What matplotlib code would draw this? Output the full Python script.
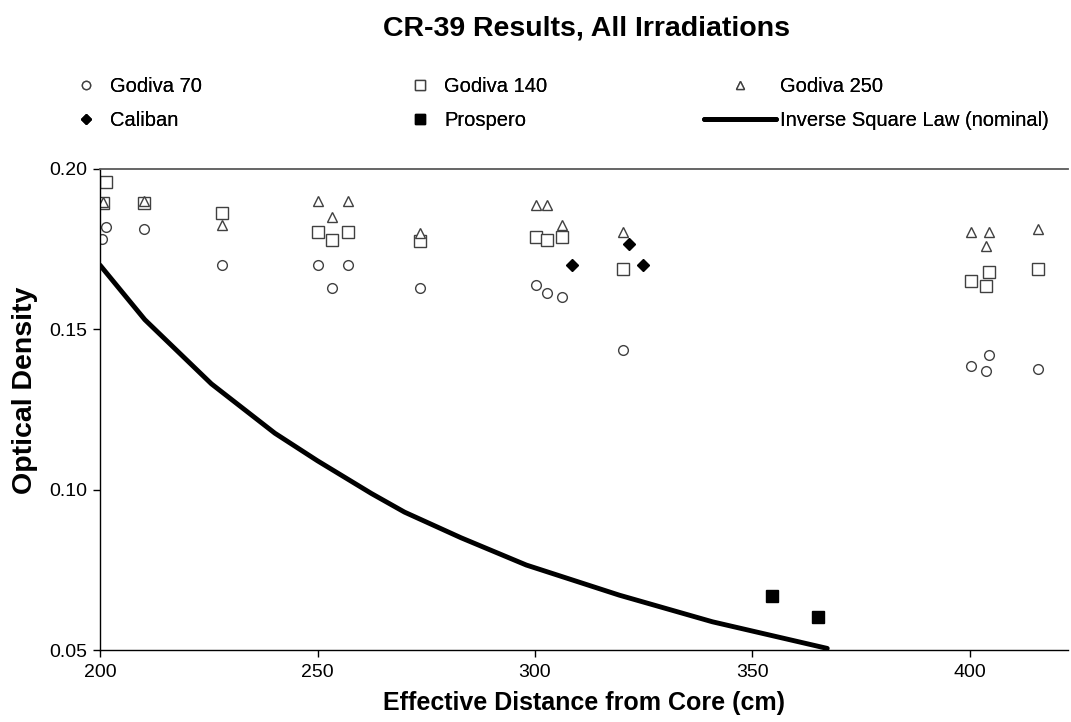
import matplotlib
matplotlib.use("Agg")
import matplotlib.pyplot as plt

plt.rcParams['font.family'] = ['Liberation Sans', 'DejaVu Sans']

# values
g70_x = [200.5, 201.4, 210.1, 228.1, 250.1, 253.3, 257.1, 273.6, 300.3, 302.8, 306.1, 320.2, 400.2, 404.4, 403.8, 415.7]
g70_y = [0.1783, 0.1818, 0.1812, 0.1700, 0.1700, 0.1629, 0.1700, 0.1628, 0.1638, 0.1612, 0.1602, 0.1436, 0.1386, 0.1421, 0.1370, 0.1377]

g140_x = [201.4, 200.6, 210.1, 228.1, 250.1, 253.3, 257.1, 273.6, 300.3, 302.8, 306.1, 320.2, 400.2, 404.4, 403.8, 415.7]
g140_y = [0.1959, 0.1895, 0.1895, 0.1862, 0.1804, 0.1778, 0.1804, 0.1775, 0.1788, 0.1778, 0.1788, 0.1689, 0.1652, 0.1679, 0.1636, 0.1688]

g250_x = [200.6, 210.1, 228.1, 250.1, 253.3, 257.1, 273.6, 300.3, 302.8, 306.1, 320.2, 400.2, 404.4, 403.8, 415.7]
g250_y = [0.1898, 0.1899, 0.1824, 0.1900, 0.1849, 0.1900, 0.1799, 0.1888, 0.1888, 0.1825, 0.1803, 0.1804, 0.1804, 0.1760, 0.1812]

caliban_x = [308.4, 321.6, 324.8]
caliban_y = [0.1700, 0.1767, 0.1700]

prospero_x = [354.4, 365.1]
prospero_y = [0.0669, 0.0602]

isl_x = [200, 210.3, 225.6, 240.2, 250, 262.4, 270, 283, 298, 319.4, 340.8, 367.2]
isl_y = [0.170, 0.153, 0.133, 0.1176, 0.109, 0.0988, 0.093, 0.085, 0.0765, 0.0671, 0.0588, 0.0505]

y_ticks = [0.05, 0.10, 0.15, 0.20]
x_ticks = [200, 250, 300, 350, 400]

fig = plt.figure(figsize=(10.71, 7.22), dpi=100)
ax = fig.add_axes([0.0934, 0.0997, 0.9036, 0.6663])

grey = '#404040'
ax.plot(g70_x, g70_y, ls='none', marker='o', ms=7, mfc='white', mec=grey, mew=1.0, label='Godiva 70')
ax.plot(g140_x, g140_y, ls='none', marker='s', ms=8, mfc='white', mec=grey, mew=1.0, label='Godiva 140')
ax.plot(g250_x, g250_y, ls='none', marker='^', ms=7.5, mfc='white', mec=grey, mew=1.0, label='Godiva 250')
ax.plot(caliban_x, caliban_y, ls='none', marker='D', ms=6, mfc='black', mec='black', label='Caliban')
ax.plot(prospero_x, prospero_y, ls='none', marker='s', ms=8, mfc='black', mec='black', label='Prospero')
ax.plot(isl_x, isl_y, color='black', lw=3.5, solid_capstyle='round', label='Inverse Square Law (nominal)')

ax.set_xlim(200, 422.5)
ax.set_ylim(0.05, 0.20)
ax.set_xticks(x_ticks)
ax.set_yticks(y_ticks)
ax.set_yticklabels(['%.2f' % v for v in y_ticks])
ax.tick_params(direction='out', length=5, width=1, labelsize=14, colors='black')
ax.tick_params(axis='y', pad=4)
ax.tick_params(axis='x', pad=5)

ax.spines['right'].set_visible(False)
ax.spines['top'].set_color('#595959')
ax.spines['top'].set_linewidth(1.3)
for s in ['left', 'bottom']:
    ax.spines[s].set_color('black')
    ax.spines[s].set_linewidth(1)

ax.set_xlabel('Effective Distance from Core (cm)', fontsize=18, fontweight='bold', labelpad=7)
ax.set_ylabel('Optical Density', fontsize=20.5, fontweight='bold')
ax.yaxis.set_label_coords(-0.064, 0.54)
fig.suptitle('CR-39 Results, All Irradiations', fontsize=20.5, fontweight='bold', x=0.548, y=0.978)

# legend in three columns above the plot
h, l = ax.get_legend_handles_labels()
cols = [([h[0], h[3]], [l[0], l[3]], 0.071, 1.0, 0.7),
        ([h[1], h[4]], [l[1], l[4]], 0.383, 1.0, 0.7),
        ([h[2], h[5]], [l[2], l[5]], 0.657, 3.6, 0.2)]
for hh, ll, xpos, hl, tp in cols:
    lg = fig.legend(hh, ll, loc='upper left', bbox_to_anchor=(xpos, 0.893), frameon=False,
                    fontsize=14.5, handlelength=hl, handletextpad=tp, labelspacing=0.72,
                    borderaxespad=0, borderpad=0, markerscale=0.85)
    fig.add_artist(lg)

fig.savefig('out.png', dpi=100, facecolor='white')
